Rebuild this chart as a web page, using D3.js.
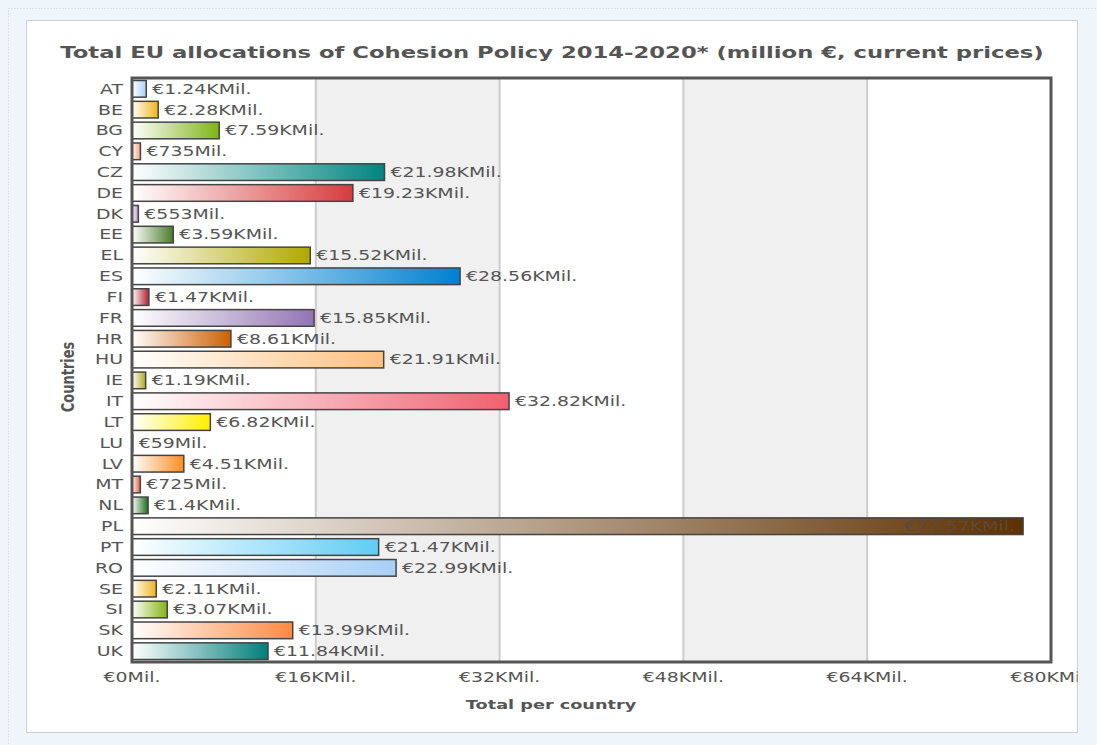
<!DOCTYPE html>
<html>
<head>
<meta charset="utf-8">
<script src="https://cdn.jsdelivr.net/npm/d3@7"></script>
<style>
  html, body { margin: 0; padding: 0; background: #eef5fb; }
  svg { display: block; }
  text { font-family: "DejaVu Sans", Verdana, sans-serif; }
</style>
</head>
<body>
<svg id="chart" width="1097" height="745"></svg>
<script>
// Cohesion Policy 2014-2020 allocations, million €
const countries = ["AT","BE","BG","CY","CZ","DE","DK","EE","EL","ES","FI","FR","HR","HU","IE","IT","LT","LU","LV","MT","NL","PL","PT","RO","SE","SI","SK","UK"];
const totals = [1240, 2280, 7590, 735, 21980, 19230, 553, 3590, 15520, 28560, 1470, 15850, 8610, 21910, 1190, 32820, 6820, 59, 4510, 725, 1400, 77570, 21470, 22990, 2110, 3070, 13990, 11840];
const barColors = ["#a9d1f5","#f0b41e","#7fb414","#f7a07a","#00857f","#d73c3c","#b090c8","#4a7c2a","#b0a800","#0080d0","#b02030","#9274b4","#cc6000","#ffc080","#b0a820","#f06070","#ffee00","#c8c8c8","#ff8c20","#e06040","#1a6e1a","#5e3000","#60ccf4","#a8cff5","#f0b41e","#84b414","#ff8840","#007f7a"];
const tickValues = [0, 16000, 32000, 48000, 64000, 80000];
const tickLabels = ["€0Mil.","€16KMil.","€32KMil.","€48KMil.","€64KMil.","€80KMil."];

const title = "Total EU allocations of Cohesion Policy 2014-2020* (million €, current prices)";
const xTitle = "Total per country";
const yTitle = "Countries";

const W = 1097, H = 745;
const panel = {x: 26.5, y: 20.5, w: 1051, h: 712};
const plot = {left: 132, right: 1051, top: 78, bottom: 662};
const SX = 1.4;       // horizontal stretch of regular text
const SXB = 1.36;     // horizontal stretch of bold axis titles
const SXT = 1.42;     // horizontal stretch of the chart title
const textColor = "#555";

const svg = d3.select("#chart");
const defs = svg.append("defs");

// page decoration: dotted outer frame and white panel
svg.append("rect").attr("x", 8.5).attr("y", 8.5).attr("width", W).attr("height", H)
  .attr("fill", "#eef5fb").attr("stroke", "#b8d4ea").attr("stroke-dasharray", "1,2");
svg.append("rect").attr("x", panel.x).attr("y", panel.y).attr("width", panel.w).attr("height", panel.h)
  .attr("fill", "#fff").attr("stroke", "#cfcfcf");

defs.append("clipPath").attr("id", "panelClip")
  .append("rect").attr("x", panel.x).attr("y", panel.y).attr("width", panel.w).attr("height", panel.h);

const g = svg.append("g").attr("clip-path", "url(#panelClip)");

const x = d3.scaleLinear().domain([0, 80000]).range([plot.left, plot.right]);
const y = d3.scaleBand().domain(countries).range([plot.top, plot.bottom]).paddingInner(0.2).paddingOuter(0.12);

// alternating background bands
const bands = d3.pairs(tickValues).filter((d, i) => i % 2 === 1);
g.selectAll("rect.band").data(bands).join("rect")
  .attr("class", "band")
  .attr("x", d => x(d[0])).attr("width", d => x(d[1]) - x(d[0]))
  .attr("y", plot.top).attr("height", plot.bottom - plot.top)
  .attr("fill", "#f0f0f0");

// vertical grid lines
g.selectAll("line.grid").data(tickValues.slice(1, -1)).join("line")
  .attr("class", "grid")
  .attr("x1", d => x(d)).attr("x2", d => x(d))
  .attr("y1", plot.top).attr("y2", plot.bottom)
  .attr("stroke", "#cccccc").attr("stroke-width", 2);

// gradients: white on the left to the bar colour on the right
const grads = defs.selectAll("linearGradient").data(countries).join("linearGradient")
  .attr("id", (d, i) => "grad" + i)
  .attr("x1", "0%").attr("x2", "100%").attr("y1", "0%").attr("y2", "0%");
grads.append("stop").attr("offset", "0%").attr("stop-color", "#ffffff");
grads.append("stop").attr("offset", "100%").attr("stop-color", (d, i) => barColors[i]);

const fmt = v => v >= 1000 ? "€" + (+(v / 1000).toFixed(2)) + "KMil." : "€" + v + "Mil.";

// bars
g.selectAll("rect.bar").data(countries).join("rect")
  .attr("class", "bar")
  .attr("x", x(0))
  .attr("y", d => y(d))
  .attr("width", (d, i) => x(totals[i]) - x(0))
  .attr("height", y.bandwidth())
  .attr("fill", (d, i) => "url(#grad" + i + ")")
  .attr("stroke", "#444")
  .attr("stroke-width", 1.5);

// value labels
g.selectAll("text.value").data(countries).join("text")
  .attr("class", "value")
  .attr("transform", (d, i) => {
    const inside = totals[i] > 70000;
    const tx = inside ? x(totals[i]) - 8 : x(totals[i]) + 6;
    return `translate(${tx},${y(d) + y.bandwidth() / 2}) scale(${SX},1)`;
  })
  .attr("text-anchor", (d, i) => totals[i] > 70000 ? "end" : "start")
  .attr("dy", "0.36em")
  .attr("font-size", 13.5)
  .attr("fill", (d, i) => totals[i] > 70000 ? "#5a4a3a" : textColor)
  .text((d, i) => fmt(totals[i]));

// plot frame
g.append("rect")
  .attr("x", plot.left).attr("y", plot.top)
  .attr("width", plot.right - plot.left).attr("height", plot.bottom - plot.top)
  .attr("fill", "none").attr("stroke", "#555").attr("stroke-width", 3);

// category axis labels
g.selectAll("text.cat").data(countries).join("text")
  .attr("class", "cat")
  .attr("transform", d => `translate(${plot.left - 9},${y(d) + y.bandwidth() / 2}) scale(${SX},1)`)
  .attr("text-anchor", "end").attr("dy", "0.36em")
  .attr("font-size", 13.5).attr("fill", textColor)
  .text(d => d);

// value axis tick labels
g.selectAll("text.tick").data(tickValues).join("text")
  .attr("class", "tick")
  .attr("transform", d => `translate(${x(d)},${plot.bottom + 15}) scale(${SX},1)`)
  .attr("text-anchor", "middle").attr("dy", "0.36em")
  .attr("font-size", 13.5).attr("fill", textColor)
  .text((d, i) => tickLabels[i]);

// axis titles
g.append("text")
  .attr("transform", `translate(551,${plot.bottom + 42}) scale(${SXB},1)`)
  .attr("text-anchor", "middle").attr("dy", "0.36em")
  .attr("font-size", 13).attr("font-weight", "bold").attr("fill", textColor)
  .text(xTitle);

g.append("text")
  .attr("transform", `translate(68,377) scale(${SXB},1) rotate(-90)`)
  .attr("text-anchor", "middle").attr("dy", "0.36em")
  .attr("font-size", 13).attr("font-weight", "bold").attr("fill", textColor)
  .text(yTitle);

// chart title
g.append("text")
  .attr("transform", `translate(552,52) scale(${SXT},1)`)
  .attr("text-anchor", "middle").attr("dy", "0.36em")
  .attr("font-size", 16).attr("font-weight", "bold").attr("fill", textColor)
  .text(title);
</script>
</body>
</html>
